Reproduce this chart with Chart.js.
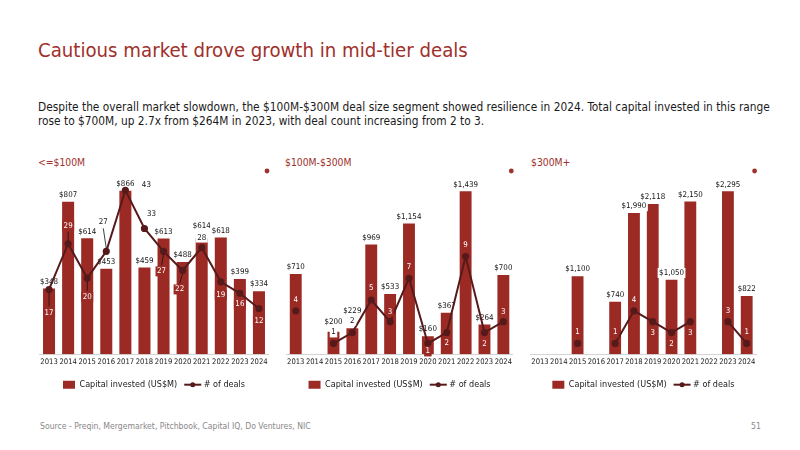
<!DOCTYPE html>
<html>
<head>
<meta charset="utf-8">
<script src="https://cdn.jsdelivr.net/npm/chart.js@4.4.1/dist/chart.umd.min.js"></script>
<style>
  html, body { margin: 0; padding: 0; background: #fff; }
  body { width: 800px; height: 450px; position: relative; overflow: hidden; font-family: 'DejaVu Sans Condensed', Lato, sans-serif; }
  .abs { position: absolute; white-space: nowrap; }
  #title { left: 38px; top: 38px; font-size: 20.2px; color: #a0302b; }
  #sub { left: 38px; top: 99.5px; font-size: 11.8px; line-height: 14.5px; color: #1a1a1a; }
  .sec { top: 156px; font-size: 10.3px; color: #a0302b; }
  #foot { left: 40px; top: 421px; font-size: 8.6px; color: #888; }
  #page { left: 751px; top: 421px; font-size: 8.6px; color: #888; }
  canvas { position: absolute; top: 150px; }
</style>
</head>
<body>
<div id="title" class="abs">Cautious market drove growth in mid-tier deals</div>
<div id="sub" class="abs">Despite the overall market slowdown, the $100M-$300M deal size segment showed resilience in 2024. Total capital invested in this range<br>rose to $700M, up 2.7x from $264M in 2023, with deal count increasing from 2 to 3.</div>
<div class="abs sec" style="left:38px">&lt;=$100M</div>
<div class="abs sec" style="left:285px">$100M-$300M</div>
<div class="abs sec" style="left:531px">$300M+</div>
<canvas id="c1" width="250" height="250" style="left:30px"></canvas>
<canvas id="c2" width="245" height="250" style="left:280px"></canvas>
<canvas id="c3" width="245" height="250" style="left:525px"></canvas>
<div id="foot" class="abs">Source - Preqin, Mergemarket, Pitchbook, Capital IQ, Do Ventures, NIC</div>
<div id="page" class="abs">51</div>
<script>
const YEARS = ['2013', '2014', '2015', '2016', '2017', '2018', '2019', '2020', '2021', '2022', '2023', '2024'];

// <=$100M
const CAP_SMALL = [348, 807, 614, 453, 866, 459, 613, 488, 614, 618, 399, 334];
const DEALS_SMALL = [17, 29, 20, 27, 43, 33, 27, 22, 28, 19, 16, 12];

// $100M-$300M
const CAP_MID = [710, null, 200, 229, 969, 533, 1154, 160, 367, 1439, 264, 700];
const DEALS_MID = [4, null, 1, 2, 5, 3, 7, 1, 2, 9, 2, 3];

// $300M+
const CAP_LARGE = [null, null, 1100, null, 740, 1990, 2118, 1050, 2150, null, 2295, 822];
const DEALS_LARGE = [null, null, 1, null, 1, 4, 3, 2, 3, null, 3, 1];

const BAR = '#9b2a25';
const LINE = '#561a1b';
const FONT = "'DejaVu Sans Condensed', Lato, sans-serif";

function labelBox(ctx, text, x, y, bg, fg) {
    const w = ctx.measureText(text).width;
    ctx.fillStyle = bg;
    ctx.fillRect(x - w / 2 - 1.5, y - 5, w + 3, 10);
    ctx.fillStyle = fg;
    ctx.fillText(text, x, y);
}

const dealLabels = {
    id: 'dealLabels',
    afterDatasetDraw(chart, args, opts) {
        if (args.index !== 0) return;
        // capital values above the bars
        const ctx = chart.ctx;
        const cap = chart.data.datasets[0].data;
        ctx.save();
        ctx.font = '7.9px ' + FONT;
        ctx.textAlign = 'center';
        ctx.textBaseline = 'middle';
        args.meta.data.forEach((bar, i) => {
            if (cap[i] == null) return;
            const lift = (opts.capLift && opts.capLift[i]) || 6.8;
            labelBox(ctx, '$' + cap[i].toLocaleString('en-US'), bar.x, bar.y - lift, '#fff', '#111');
        });
        ctx.restore();
    },
    afterDatasetsDraw(chart, args, opts) {
        const ctx = chart.ctx;
        const cap = chart.data.datasets[0].data;
        const deals = chart.data.datasets[1].data;
        const bars = chart.getDatasetMeta(0).data;
        const pts = chart.getDatasetMeta(1).data;
        ctx.save();
        ctx.font = '7.9px ' + FONT;
        ctx.textAlign = 'center';
        ctx.textBaseline = 'middle';
        pts.forEach((p, i) => {
            if (deals[i] == null) return;
            const [dx, dy] = opts.offsets[i];
            const lx = p.x + dx, ly = p.y + dy;
            if (Math.abs(dy) >= 16) {
                const s = Math.sign(dy);
                ctx.strokeStyle = '#111';
                ctx.lineWidth = 0.8;
                ctx.beginPath();
                ctx.moveTo(p.x, p.y + s * 3);
                ctx.lineTo(lx, ly - s * 6);
                ctx.stroke();
            }
            const b = bars[i];
            const inside = cap[i] != null && Math.abs(lx - b.x) < b.width / 2 && ly - 4 > b.y;
            labelBox(ctx, String(deals[i]), lx, ly, inside ? BAR : '#fff', inside ? '#fff' : '#111');
        });
        ctx.restore();
    },
    afterDraw(chart) {
        const ctx = chart.ctx;
        const area = chart.chartArea;
        ctx.save();
        // small marker at the top right of each panel
        ctx.fillStyle = '#a0302b';
        ctx.beginPath();
        ctx.arc(area.right - 1.5, area.top + 5.6, 2.4, 0, Math.PI * 2);
        ctx.fill();
        // line-with-dot legend marker
        const legend = chart.legend;
        legend.legendItems.forEach((item, i) => {
            if (item.datasetIndex !== 1) return;
            const hb = legend.legendHitBoxes[i];
            const cy = hb.top + hb.height / 2;
            ctx.strokeStyle = LINE;
            ctx.fillStyle = LINE;
            ctx.lineWidth = 2;
            ctx.beginPath();
            ctx.moveTo(hb.left - 3, cy);
            ctx.lineTo(hb.left + 14, cy);
            ctx.stroke();
            ctx.beginPath();
            ctx.arc(hb.left + 5.5, cy, 2.5, 0, Math.PI * 2);
            ctx.fill();
        });
        ctx.restore();
    },
};

function makeChart(id, cap, deals, cfg) {
    new Chart(document.getElementById(id), {
        type: 'bar',
        data: {
            labels: YEARS,
            datasets: [
                {
                    type: 'bar',
                    label: 'Capital invested (US$M)',
                    data: cap,
                    backgroundColor: BAR,
                    yAxisID: 'y',
                    order: 2,
                    categoryPercentage: 1,
                    barPercentage: 0.63,
                },
                {
                    type: 'line',
                    label: '# of deals',
                    data: deals,
                    borderColor: LINE,
                    backgroundColor: LINE,
                    borderWidth: 2,
                    pointRadius: 2.6,
                    pointHoverRadius: 2.6,
                    yAxisID: 'y2',
                    order: 1,
                    spanGaps: false,
                    tension: 0,
                },
            ],
        },
        options: {
            responsive: false,
            animation: false,
            layout: { padding: cfg.padding },
            scales: {
                x: {
                    grid: { display: false, drawTicks: false },
                    border: { color: '#d4d4d4', width: 1 },
                    ticks: {
                        font: { family: FONT, size: 7.6 },
                        color: '#1a1a1a',
                        padding: 3,
                        autoSkip: false,
                        maxRotation: 0,
                    },
                    afterFit: s => { s.height += 0.8; },
                },
                y: { display: false, min: 0, max: cfg.capMax },
                y2: { display: false, min: 0, max: cfg.dealMax, position: 'right' },
            },
            plugins: {
                legend: {
                    position: 'bottom',
                    labels: {
                        font: { family: FONT, size: 9 },
                        color: '#1a1a1a',
                        boxWidth: 12,
                        boxHeight: 8,
                        padding: 10,
                        sort: (a, b) => a.datasetIndex - b.datasetIndex,
                        generateLabels: chart => {
                            const items = Chart.defaults.plugins.legend.labels.generateLabels(chart);
                            items.forEach(it => {
                                it.lineWidth = 0;
                                if (it.datasetIndex === 1) {
                                    it.fillStyle = 'rgba(0,0,0,0)';
                                    it.strokeStyle = 'rgba(0,0,0,0)';
                                }
                            });
                            return items;
                        },
                    },
                },
                tooltip: { enabled: false },
                dealLabels: { offsets: cfg.offsets, capLift: cfg.capLift },
            },
        },
        plugins: [dealLabels],
    });
}

makeChart('c1', CAP_SMALL, DEALS_SMALL, {
    capMax: 1000, dealMax: 49.55,
    padding: { left: 9.5, right: 11.5, top: 15.4, bottom: 0.8 },
    offsets: [[0, 23], [0, -18], [0, 19], [-3, -29], [21, -5], [7, -15], [-2, 20], [-3, 19], [0, -10], [0, 13], [0, 11], [0, 12]],
    capLift: [0, 0, 0, 0, 0, 0, 0, 0, 12, 0, 0, 0],
});
makeChart('c2', CAP_MID, DEALS_MID, {
    capMax: 1668, dealMax: 17.4,
    padding: { left: 6.3, right: 12.2, top: 15.4, bottom: 0.8 },
    offsets: [[0, -11], [0, 0], [0, -11], [0, -12], [0, -12], [0, -10], [0, -11], [0, 8], [0, 10], [0, -12], [0, 11], [0, -10]],
    capLift: [0, 0, 10, 17, 0, 0, 0, 0, 0, 0, 0, 0],
});
makeChart('c3', CAP_LARGE, DEALS_LARGE, {
    capMax: 2660, dealMax: 17.4,
    padding: { left: 5.6, right: 13.9, top: 15.4, bottom: 0.8 },
    offsets: [[0, 0], [0, 0], [0, -11], [0, 0], [0, -11], [0, -11], [0, 11], [0, 11], [0, 11], [0, 0], [0, -11], [0, -11]],
});
</script>
</body>
</html>
